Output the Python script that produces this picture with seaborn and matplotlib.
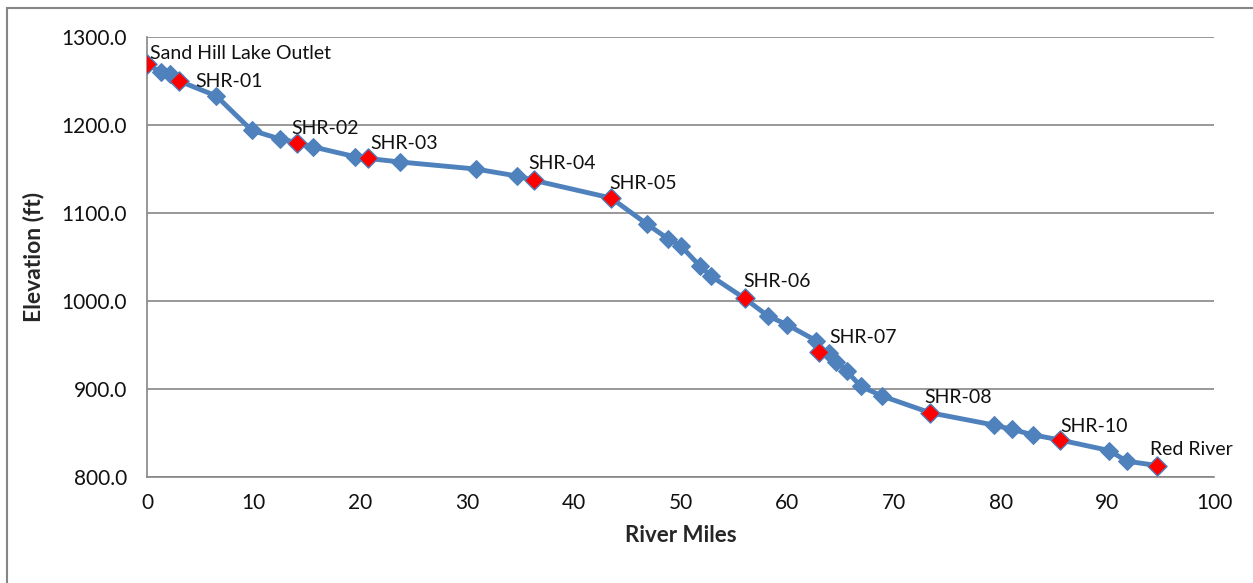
import pandas as pd
import seaborn as sns
import matplotlib.pyplot as plt
from matplotlib.patches import Rectangle

# River profile
river_miles = [0.0, 1.3, 2.2, 3.0, 6.5, 9.8, 12.5, 14.1, 15.6, 19.5, 20.7, 23.7,
               30.8, 34.7, 36.3, 43.5, 46.9, 48.8, 50.0, 51.8, 52.9, 56.0, 58.2,
               60.0, 62.7, 63.0, 63.9, 64.6, 65.6, 66.9, 68.9, 73.4, 79.4, 81.1,
               83.0, 85.6, 90.2, 91.8, 94.7]
elevation_ft = [1269, 1260, 1258, 1250, 1233, 1194, 1184, 1180, 1175, 1164, 1162, 1158,
                1150, 1142, 1137, 1117, 1087, 1071, 1063, 1040, 1028, 1003, 983,
                973, 955, 942, 941, 931, 920, 903, 892, 873, 859, 854,
                848, 842, 830, 818, 813]

# sampling sites (subset of the profile points)
site_names = ['Sand Hill Lake Outlet', 'SHR-01', 'SHR-02', 'SHR-03', 'SHR-04', 'SHR-05',
              'SHR-06', 'SHR-07', 'SHR-08', 'SHR-10', 'Red River']
site_miles = [0.0, 3.0, 14.1, 20.7, 36.3, 43.5, 56.0, 63.0, 73.4, 85.6, 94.7]
site_elev = [1269, 1250, 1180, 1162, 1137, 1117, 1003, 942, 873, 842, 813]

# label nudges in pixels (hand placed like the original)
label_dx = [3, 16, -6, 2, -6, -2, -1, 10, -6, 0, -7]
label_dy = [2, -9, 6, 6, 8, 6, 8, 6, 7, 5, 8]

df = pd.DataFrame({'miles': river_miles, 'elev': elevation_ft})
sites = pd.DataFrame({'name': site_names, 'miles': site_miles, 'elev': site_elev})

sns.set_style('white')
plt.rcParams['font.family'] = ['Lato', 'DejaVu Sans']

fig = plt.figure(figsize=(12.53, 5.83), dpi=100)
ax = fig.add_axes([147 / 1253, 1 - 477 / 583, (1214 - 147) / 1253, (477 - 37) / 583])

blue = '#4F81BD'
sns.lineplot(data=df, x='miles', y='elev', ax=ax, color=blue, linewidth=3.5,
             marker='D', markersize=9.5, markeredgecolor=blue, sort=False, zorder=3)
sns.scatterplot(data=sites, x='miles', y='elev', ax=ax, marker='D', s=95,
                color='#FF0000', edgecolor=blue, linewidth=1.0, zorder=4)

for i, r in sites.iterrows():
    ax.annotate(r['name'], (r['miles'], r['elev']), xytext=(label_dx[i], label_dy[i]),
                textcoords='offset pixels', fontsize=14, color='#111111',
                ha='left', va='bottom', zorder=5)

ax.set_xlim(0, 100)
ax.set_ylim(800, 1300)
ax.set_xticks(range(0, 101, 10))
ax.set_yticks(range(800, 1301, 100))
ax.set_yticklabels([f'{v:.1f}' for v in range(800, 1301, 100)])
ax.yaxis.grid(True, color='#868686', linewidth=1.2)
ax.xaxis.grid(False)
ax.set_axisbelow(True)

for side in ['top', 'right']:
    ax.spines[side].set_visible(False)
for side in ['left', 'bottom']:
    ax.spines[side].set_color('#868686')
    ax.spines[side].set_linewidth(1.2)

ax.tick_params(axis='both', which='major', labelsize=15, colors='#868686',
               labelcolor='#111111', direction='out', length=6.5, width=1.2)
ax.tick_params(axis='x', pad=5)
ax.tick_params(axis='y', pad=8)

ax.set_xlabel('River Miles', fontsize=16, fontweight='bold', labelpad=9)
ax.set_ylabel('Elevation (ft)', fontsize=16.5, fontweight='bold', labelpad=12)

# chart-area border like the spreadsheet frame
fig.patches.append(Rectangle((7 / 1253, -0.1), 1.2, 1 - 8 / 583 + 0.1,
                             transform=fig.transFigure, fill=False,
                             edgecolor='#868686', linewidth=1.5))

fig.savefig('out.png', dpi=100)
